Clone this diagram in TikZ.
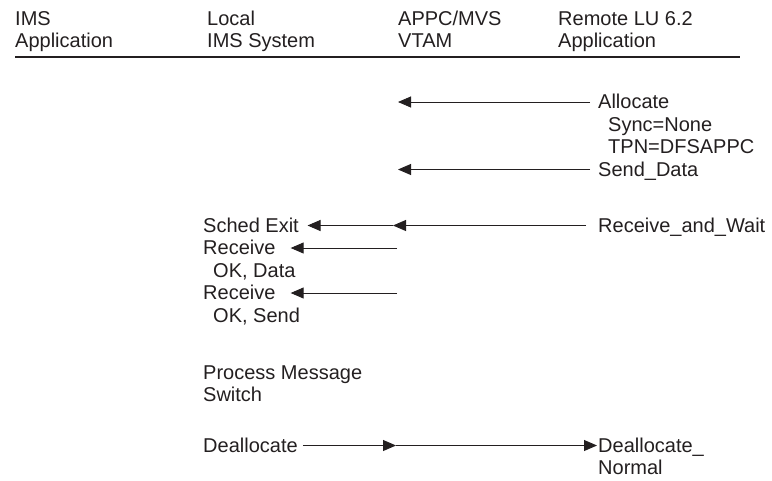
\documentclass[tikz,border=0pt]{standalone}
\usepackage{fontspec}
\setmainfont{Liberation Sans}
\usetikzlibrary{arrows.meta}
\definecolor{ink}{HTML}{231F20}
\tikzset{
  lbl/.style={font=\fontsize{20}{22.5}\selectfont, text=ink, inner sep=0pt, anchor=base west, text height=15pt, text depth=2pt},
  arr/.style={draw=ink, line width=0.9pt, -{Triangle[length=13pt,width=11pt]}},
  rule/.style={draw=ink, line width=1.2pt}
}
\begin{document}
\begin{tikzpicture}[x=1pt,y=-1pt]
\useasboundingbox (0,0) rectangle (772,480);
% headers
\node[lbl] (h1a) at (15,25) {IMS};
\node[lbl] (h1b) at (15,47) {Application};
\node[lbl] (h2a) at (207,25) {Local};
\node[lbl] (h2b) at (207,47) {IMS System};
\node[lbl] (h3a) at (398,25) {APPC/MVS};
\node[lbl] (h3b) at (398,47) {VTAM};
\node[lbl] (h4a) at (558,25) {Remote LU 6.2};
\node[lbl] (h4b) at (558,47) {Application};
\draw[rule] (15,57) -- (740,57);
% right column
\node[lbl] (alloc) at (598,108.5) {Allocate};
\node[lbl] (sync) at (608,131) {Sync=None};
\node[lbl] (tpn) at (608,153.5) {TPN=DFSAPPC};
\node[lbl] (send) at (598,176) {Send\_Data};
\node[lbl] (rw) at (598,232) {Receive\_and\_Wait};
\node[lbl] (dn) at (598,452) {Deallocate\_};
\node[lbl] (norm) at (598,474.5) {Normal};
% local column
\node[lbl] (sched) at (203,232) {Sched Exit};
\node[lbl] (recv1) at (203,254.5) {Receive};
\node[lbl] (okd) at (213,277) {OK, Data};
\node[lbl] (recv2) at (203,299.5) {Receive};
\node[lbl] (oks) at (213,322) {OK, Send};
\node[lbl] (proc) at (203,379) {Process Message};
\node[lbl] (sw) at (203,401.5) {Switch};
\node[lbl] (deal) at (203,452) {Deallocate};
% coordinates on the APPC/MVS column
\coordinate (t1) at (398,102);
\coordinate (t2) at (398,169.5);
\coordinate (m1) at (393,225.5);
\coordinate (s1) at (397,248);
\coordinate (s2) at (397,293);
\coordinate (m2) at (396,445.5);
% connectors
\draw[arr] ([xshift=-8pt]alloc.west) -- (t1);
\draw[arr] ([xshift=-8pt]send.west) -- (t2);
\draw[arr] ([xshift=-12pt]rw.west) -- (m1);
\draw[arr] (m1) -- ([xshift=8.5pt]sched.east);
\draw[arr] (s1) -- ([xshift=15pt]recv1.east);
\draw[arr] (s2) -- ([xshift=15pt]recv2.east);
\draw[arr] ([xshift=5pt]deal.east) -- (m2);
\draw[arr] (m2) -- ([xshift=-1pt]dn.west);
\end{tikzpicture}
\end{document}
